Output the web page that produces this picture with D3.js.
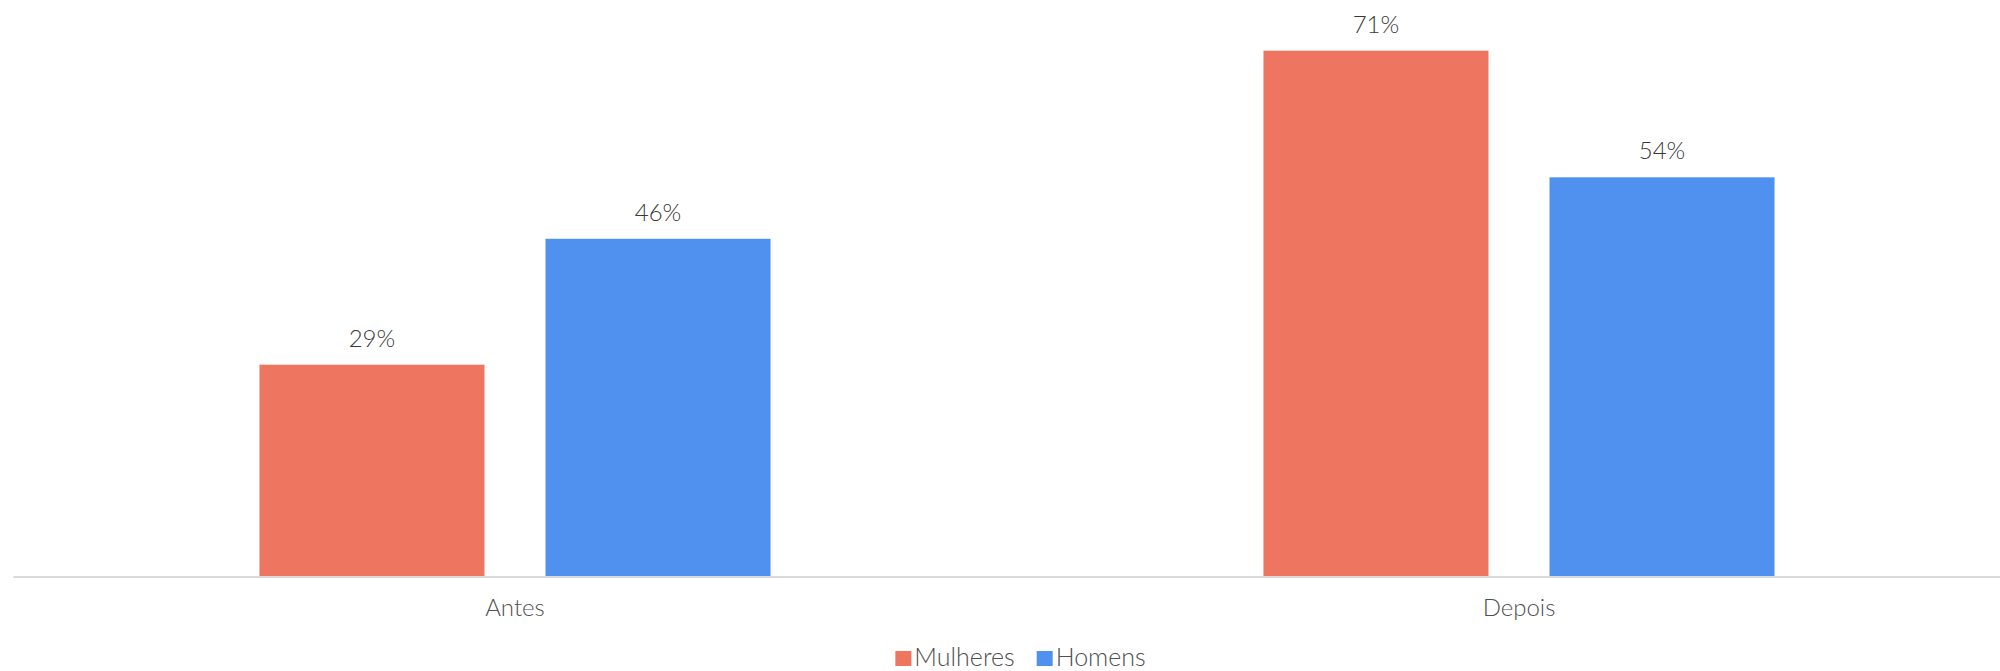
<!DOCTYPE html>
<html>
<head>
<meta charset="utf-8">
<script src="https://cdn.jsdelivr.net/npm/d3@7"></script>
<style>
  html, body { margin: 0; padding: 0; background: #ffffff; }
  svg { display: block; font-family: Lato, "Open Sans", sans-serif; font-weight: 300; }
</style>
</head>
<body>
<svg id="chart" width="2000" height="671"></svg>
<script>
// ---- data ----
const categories = ["Antes", "Depois"];
const seriesNames = ["Mulheres", "Homens"];
const mulheres = [0.286, 0.71];
const homens = [0.456, 0.539];
const seriesColors = ["#EE7661", "#5091F0"];

const seriesValues = [mulheres, homens];
const rows = categories.map((c, i) => ({
  category: c,
  values: seriesNames.map((s, j) => ({ series: s, value: seriesValues[j][i], color: seriesColors[j] }))
}));

const svg = d3.select("#chart");
const baseline = 576.5;

const x0 = d3.scaleBand().domain(categories).range([13, 2021]).paddingInner(0).paddingOuter(0);
const x1 = d3.scaleBand().domain(seriesNames).range([0, x0.bandwidth()]).paddingInner(0.2133).paddingOuter(0.8617);
const y = d3.scaleLinear().domain([0, 0.8]).range([baseline, baseline - 0.8 * 740.6]);
const fmt = d3.format(".0%");

const groups = svg.append("g").selectAll("g")
  .data(rows).join("g")
  .attr("transform", d => `translate(${x0(d.category)},0)`);

groups.selectAll("rect")
  .data(d => d.values).join("rect")
  .attr("x", d => x1(d.series))
  .attr("y", d => y(d.value))
  .attr("width", x1.bandwidth())
  .attr("height", d => y(0) - y(d.value))
  .attr("fill", d => d.color);

groups.selectAll("text.lbl")
  .data(d => d.values).join("text")
  .attr("class", "lbl")
  .attr("x", d => x1(d.series) + x1.bandwidth() / 2)
  .attr("y", d => y(d.value) - 18)
  .attr("text-anchor", "middle")
  .attr("font-size", 24)
  .attr("fill", "#3a3a3a")
  .text(d => fmt(d.value));

// x axis
const xAxis = d3.axisBottom(x0).tickSize(0).tickPadding(0);
const gx = svg.append("g").attr("transform", `translate(0,${baseline})`).call(xAxis);
gx.select(".domain").attr("stroke", "#d9d9d9").attr("stroke-width", 2);
gx.selectAll(".tick text")
  .attr("font-family", "Lato, 'Open Sans', sans-serif")
  .attr("font-weight", 300)
  .attr("font-size", 24)
  .attr("fill", "#505050")
  .attr("dy", null)
  .attr("y", 39.5);

// legend
const legend = svg.append("g");
const items = legend.selectAll("g").data(seriesNames).join("g");
items.append("rect")
  .attr("width", 16).attr("height", 15)
  .attr("y", -15)
  .attr("fill", (d, i) => seriesColors[i]);
items.append("text")
  .attr("x", 19)
  .attr("font-size", 25)
  .attr("fill", "#505050")
  .text(d => d);
let cx = 0;
items.each(function() {
  const g = d3.select(this);
  g.attr("transform", `translate(${cx},0)`);
  const w = 19 + g.select("text").node().getComputedTextLength();
  cx += w + 22;
});
const total = cx - 22;
legend.attr("transform", `translate(${1020.5 - total / 2},666)`);
</script>
</body>
</html>
